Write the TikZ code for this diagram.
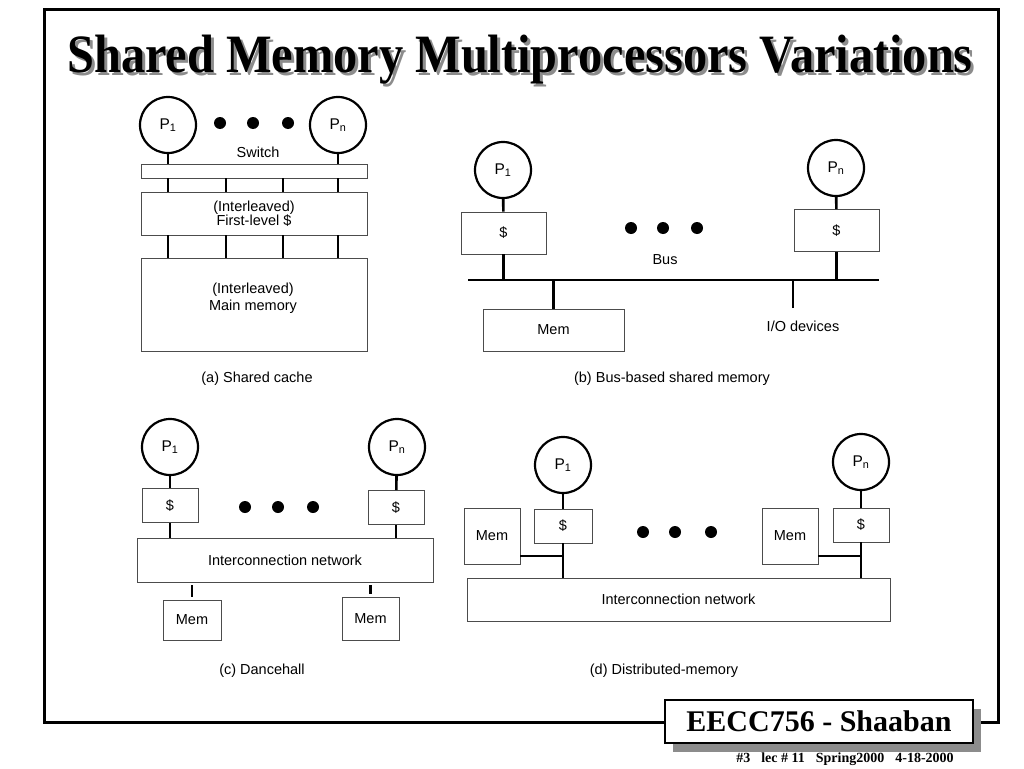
\documentclass[tikz,border=0pt]{standalone}
\usepackage{fontspec}
\setmainfont{Liberation Serif}
\setsansfont{Liberation Sans}
\renewcommand{\familydefault}{\sfdefault}
\usetikzlibrary{shadows}

\begin{document}
\begin{tikzpicture}[x=1pt, y=-1pt,
    proc/.style={draw, circle, line width=2.2pt, minimum size=56pt, inner sep=0pt, font=\fontsize{15.5}{18}\selectfont},
    unit/.style={draw=black!70, line width=0.8pt, inner sep=0pt, align=center, font=\fontsize{14.5}{14}\selectfont},
    wire/.style={line width=2.6pt},
    dot/.style={fill, circle, inner sep=0pt, minimum size=12pt},
    caption/.style={font=\fontsize{14.5}{16}\selectfont},
    titlefont/.style={font=\rmfamily\bfseries\fontsize{54}{60}\selectfont, xscale=0.895, anchor=base}]
        \useasboundingbox (0,0) rectangle (1024,768);
        \draw[line width=3pt] (44,10) rectangle (998,722);

        \node[titlefont, text=black!45] (titleshadow) at (523,75) {Shared Memory Multiprocessors Variations};
        \node[titlefont] (title) at (520,72) {Shared Memory Multiprocessors Variations};

        % (a) shared cache
        \node[proc] (p1a) at (168,125) {P\textsubscript{1}};
        \node[proc] (pna) at (338,125) {P\textsubscript{n}};
        \foreach \x in {220,253,288} \node[dot] (da\x) at (\x,123) {};
        \node[caption] (swtext) at (258,152) {Switch};
        \node[unit, minimum width=226pt, minimum height=14pt] (swa) at (254,171) {};
        \node[unit, minimum width=226pt, minimum height=43pt] (fla) at (254,213.5) {(Interleaved)\\First-level \$};
        \node[unit, minimum width=226pt, minimum height=93pt] (mma) at (254,304.5) {};
        \node[unit, draw=none] (mmtext) at (253,298) {(Interleaved)\\[3pt]Main memory};

        \draw[wire] (p1a) -- (p1a |- swa.north);
        \draw[wire] (pna) -- (pna |- swa.north);
        \foreach \x in {168,226,283,338} {
            \draw[wire] (\x,0 |- swa.south) -- (\x,0 |- fla.north);
            \draw[wire] (\x,0 |- fla.south) -- (\x,0 |- mma.north);
        }
        \node[caption] (capa) at (257,379) {(a) Shared cache};

        % (b) bus-based shared memory
        \node[proc] (p1b) at (503,170) {P\textsubscript{1}};
        \node[proc] (pnb) at (836,168) {P\textsubscript{n}};
        \node[unit, minimum width=85pt, minimum height=42pt] (c1b) at (503.5,233) {\$};
        \node[unit, minimum width=85pt, minimum height=42pt] (cnb) at (836.5,230.5) {\$};
        \foreach \x in {631,663,697} \node[dot] (db\x) at (\x,228) {};
        \node[caption] (bus) at (665,260) {Bus};
        \coordinate (busl) at (468,280);
        \coordinate (busr) at (879,280);
        \coordinate (iob) at (793,308);
        \node[unit, minimum width=141pt, minimum height=42pt] (memb) at (553.5,330) {Mem};
        \node[caption] (iotext) at (803,326) {I/O devices};

        \draw[wire] (busl) -- (busr);
        \draw[wire] (p1b) -- (c1b);
        \draw[wire] (pnb) -- (cnb);
        \draw[wire] (c1b) -- (c1b |- busl);
        \draw[wire] (cnb) -- (cnb |- busl);
        \draw[wire] (memb) -- (memb |- busl);
        \draw[wire] (iob) -- (iob |- busl);
        \node[caption] (capb) at (672,379) {(b) Bus-based shared memory};

        % (c) dancehall
        \node[proc] (p1c) at (170,447) {P\textsubscript{1}};
        \node[proc] (pnc) at (397,447) {P\textsubscript{n}};
        \node[unit, minimum width=56pt, minimum height=34pt] (c1c) at (170,505.5) {\$};
        \node[unit, minimum width=56pt, minimum height=34pt] (cnc) at (396,507.5) {\$};
        \foreach \x in {245,278,313} \node[dot] (dc\x) at (\x,507) {};
        \node[unit, minimum width=296pt, minimum height=44pt] (netc) at (285,560) {Interconnection network};
        \node[unit, minimum width=58pt, minimum height=40pt] (m1c) at (192,620) {Mem};
        \node[unit, minimum width=57pt, minimum height=43pt] (mnc) at (370.5,618.5) {Mem};

        \draw[wire] (p1c) -- (c1c);
        \draw[wire] (pnc) -- (cnc);
        \draw[wire] (c1c) -- (c1c |- netc.north);
        \draw[wire] (cnc) -- (cnc |- netc.north);
        \draw[wire, shorten <=3pt, shorten >=3pt] (m1c |- netc.south) -- (m1c);
        \draw[wire, shorten <=3pt, shorten >=3pt] (mnc |- netc.south) -- (mnc);
        \node[caption] (capc) at (262,671) {(c) Dancehall};

        % (d) distributed memory
        \node[proc] (p1d) at (563,465) {P\textsubscript{1}};
        \node[proc] (pnd) at (861,462) {P\textsubscript{n}};
        \node[unit, minimum width=58pt, minimum height=34pt] (c1d) at (563,526) {\$};
        \node[unit, minimum width=56pt, minimum height=34pt] (cnd) at (861,525) {\$};
        \node[unit, minimum width=56pt, minimum height=56pt] (m1d) at (492,536) {Mem};
        \node[unit, minimum width=56pt, minimum height=56pt] (mnd) at (790,536) {Mem};
        \foreach \x in {643,675,711} \node[dot] (dd\x) at (\x,532) {};
        \node[unit, minimum width=423pt, minimum height=43pt] (netd) at (678.5,599.5) {Interconnection network};
        \coordinate (j1d) at (563,556);
        \coordinate (jnd) at (861,556);

        \draw[wire] (p1d) -- (c1d);
        \draw[wire] (pnd) -- (cnd);
        \draw[wire] (c1d) -- (c1d |- netd.north);
        \draw[wire] (cnd) -- (cnd |- netd.north);
        \draw[wire] (m1d.east |- j1d) -- (j1d);
        \draw[wire] (mnd.east |- jnd) -- (jnd);
        \node[caption] (capd) at (664,671) {(d) Distributed-memory};

        % footer
        \node[draw, fill=white, line width=1.2pt, minimum width=308pt, minimum height=43pt,
              drop shadow={shadow xshift=8pt, shadow yshift=-9pt, fill=black!45, opacity=1},
              font=\rmfamily\bfseries\fontsize{30}{34}\selectfont] (brand) at (819,721.5) {EECC756 - Shaaban};
        \node[font=\rmfamily\bfseries\fontsize{14}{16}\selectfont] (slide) at (845,759)
              {\#3\hspace{11pt}lec \# 11\hspace{11pt}Spring2000\hspace{11pt}4-18-2000};
    \end{tikzpicture}
\end{document}
